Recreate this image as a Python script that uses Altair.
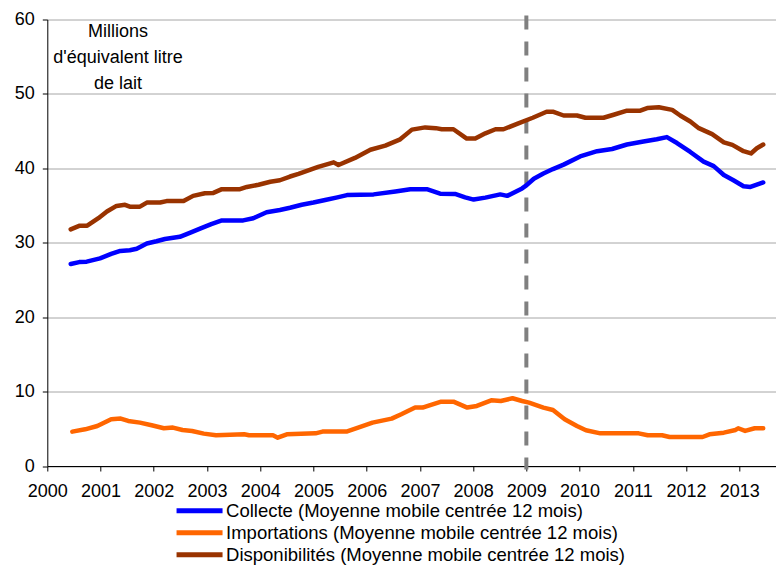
import altair as alt
import pandas as pd

# ---- data ----
collecte_years = [2000.44, 2000.6, 2000.74, 2000.99, 2001.2, 2001.37, 2001.55, 2001.68, 2001.87, 2002.05,
                  2002.21, 2002.49, 2002.7, 2002.87, 2003.08, 2003.28, 2003.68, 2003.87, 2004.12, 2004.37,
                  2004.56, 2004.78, 2005.0, 2005.22, 2005.45, 2005.63, 2006.13, 2006.54, 2006.82, 2007.13,
                  2007.38, 2007.66, 2007.85, 2008.01, 2008.23, 2008.51, 2008.64, 2008.92, 2009.0, 2009.14,
                  2009.32, 2009.5, 2009.7, 2010.01, 2010.33, 2010.61, 2010.89, 2011.2, 2011.45, 2011.64,
                  2011.83, 2012.08, 2012.33, 2012.52, 2012.71, 2012.89, 2013.08, 2013.21, 2013.45]
collecte_values = [27.15, 27.4, 27.46, 27.9, 28.5, 28.9, 29.0, 29.2, 29.9, 30.2,
                   30.5, 30.8, 31.4, 31.9, 32.5, 33.0, 33.0, 33.3, 34.1, 34.4,
                   34.7, 35.1, 35.4, 35.75, 36.1, 36.4, 36.5, 36.9, 37.2, 37.2,
                   36.6, 36.56, 36.1, 35.8, 36.06, 36.5, 36.3, 37.3, 37.7, 38.6,
                   39.3, 39.9, 40.5, 41.6, 42.3, 42.6, 43.2, 43.6, 43.9, 44.2,
                   43.4, 42.2, 40.9, 40.3, 39.1, 38.4, 37.6, 37.5, 38.1]

import_years = [2000.47, 2000.71, 2000.94, 2001.2, 2001.38, 2001.52, 2001.74, 2001.96, 2002.19, 2002.36,
                2002.54, 2002.72, 2002.94, 2003.17, 2003.7, 2003.79, 2004.24, 2004.33, 2004.5, 2005.04,
                2005.17, 2005.62, 2005.84, 2006.11, 2006.47, 2006.65, 2006.91, 2007.05, 2007.18, 2007.4,
                2007.63, 2007.89, 2008.07, 2008.34, 2008.52, 2008.74, 2008.92, 2009.05, 2009.32, 2009.5,
                2009.72, 2009.95, 2010.12, 2010.39, 2011.11, 2011.28, 2011.55, 2011.69, 2012.31, 2012.44,
                2012.71, 2012.93, 2012.98, 2013.11, 2013.29, 2013.45]
import_values = [4.62, 4.93, 5.38, 6.28, 6.37, 6.05, 5.83, 5.47, 5.07, 5.16,
                 4.84, 4.71, 4.35, 4.13, 4.26, 4.13, 4.13, 3.81, 4.26, 4.39,
                 4.62, 4.62, 5.16, 5.83, 6.37, 6.95, 7.85, 7.85, 8.16, 8.65,
                 8.65, 7.85, 8.07, 8.83, 8.74, 9.1, 8.74, 8.52, 7.85, 7.53,
                 6.28, 5.38, 4.8, 4.39, 4.39, 4.13, 4.13, 3.9, 3.9, 4.26,
                 4.48, 4.84, 5.07, 4.71, 5.07, 5.07]

dispo_years = [2000.44, 2000.61, 2000.75, 2000.96, 2001.12, 2001.3, 2001.46, 2001.55, 2001.74, 2001.87,
               2002.12, 2002.24, 2002.56, 2002.74, 2002.96, 2003.12, 2003.28, 2003.62, 2003.75, 2003.97,
               2004.19, 2004.37, 2004.56, 2004.72, 2005.09, 2005.38, 2005.47, 2005.78, 2006.07, 2006.35,
               2006.63, 2006.85, 2007.1, 2007.3, 2007.41, 2007.63, 2007.88, 2008.04, 2008.23, 2008.42,
               2008.57, 2008.85, 2009.12, 2009.38, 2009.51, 2009.7, 2009.95, 2010.11, 2010.45, 2010.64,
               2010.89, 2011.14, 2011.27, 2011.49, 2011.74, 2011.89, 2012.08, 2012.24, 2012.49, 2012.71,
               2012.87, 2013.08, 2013.22, 2013.33, 2013.45]
dispo_values = [31.8, 32.3, 32.3, 33.3, 34.2, 34.95, 35.1, 34.85, 34.85, 35.4,
                35.4, 35.6, 35.6, 36.3, 36.65, 36.7, 37.2, 37.2, 37.5, 37.8,
                38.2, 38.4, 38.9, 39.25, 40.2, 40.8, 40.45, 41.4, 42.5, 43.05,
                43.9, 45.2, 45.5, 45.4, 45.25, 45.25, 44.0, 44.0, 44.7, 45.25,
                45.25, 46.05, 46.8, 47.6, 47.6, 47.1, 47.1, 46.8, 46.8, 47.2,
                47.75, 47.75, 48.1, 48.2, 47.85, 47.1, 46.3, 45.4, 44.6, 43.5,
                43.15, 42.3, 42.0, 42.7, 43.2]

series_names = ["Collecte (Moyenne mobile centrée 12 mois)",
                "Importations (Moyenne mobile centrée 12 mois)",
                "Disponibilités (Moyenne mobile centrée 12 mois)"]
series_colors = ["#0000FF", "#FF6600", "#993300"]

x_ticks = list(range(2000, 2014))
y_ticks = [0, 10, 20, 30, 40, 50, 60]

marker_year = [2009]
note_lines = ["Millions", "d'équivalent litre", "de lait"]
note_year = [2001.33, 2001.33, 2001.33]
note_values = [57.65, 54.15, 50.66]

FONT = "Liberation Sans"

rows = []
for name, ys, vs in [(series_names[0], collecte_years, collecte_values),
                     (series_names[1], import_years, import_values),
                     (series_names[2], dispo_years, dispo_values)]:
    for yy, vv in zip(ys, vs):
        rows.append({"annee": yy, "valeur": vv, "serie": name})
df = pd.DataFrame(rows)

x_scale = alt.Scale(domain=[2000, 2013.69], nice=False, zero=False)
y_scale = alt.Scale(domain=[0, 60], nice=False, zero=True)

x_axis = alt.Axis(values=x_ticks, format="d", title=None, grid=False, tickSize=5,
                  labelPadding=11, labelFontSize=18, labelFont=FONT, labelColor="#000000",
                  domainColor="#000000", tickColor="#000000", labelFlush=False, labelOverlap=False)
y_axis = alt.Axis(values=y_ticks, title=None, grid=True, gridColor="#A6A6A6", tickSize=5,
                  labelPadding=8, labelFontSize=18, labelFont=FONT, labelColor="#000000",
                  domainColor="#000000", tickColor="#000000")

lines = alt.Chart(df).mark_line(strokeWidth=4.5, strokeJoin="round", strokeCap="round").encode(
    x=alt.X("annee:Q", scale=x_scale, axis=x_axis),
    y=alt.Y("valeur:Q", scale=y_scale, axis=y_axis),
    color=alt.Color("serie:N", scale=alt.Scale(domain=series_names, range=series_colors),
                    legend=alt.Legend(orient="none", legendX=143, legendY=482, title=None,
                                      symbolType="M-4,0H4", symbolSize=132.25, symbolStrokeWidth=5,
                                      labelFontSize=18.5, labelFont=FONT, labelColor="#000000",
                                      labelOffset=17.25, rowPadding=1, labelLimit=600)),
    detail="serie:N",
)

rule = alt.Chart(pd.DataFrame({"annee": marker_year})).mark_rule(
    color="#808080", strokeWidth=4, strokeDash=[14, 12]
).encode(x=alt.X("annee:Q", scale=x_scale), y=alt.value(-4), y2=alt.value(450))

note = alt.Chart(pd.DataFrame({"annee": note_year, "valeur": note_values, "txt": note_lines})).mark_text(
    font=FONT, fontSize=18, color="#000000", align="center", baseline="alphabetic"
).encode(x=alt.X("annee:Q", scale=x_scale), y=alt.Y("valeur:Q", scale=y_scale), text="txt:N")

chart = alt.layer(rule, lines, note).properties(
    width=728.7, height=446.5,
    padding={"left": 39.3, "top": 11.5, "right": 0, "bottom": 100},
    autosize=alt.AutoSizeParams(type="none"),
    background="#FFFFFF",
).configure_view(stroke=None)

chart.save("out.html", embed_options={"renderer": "svg", "actions": False})
